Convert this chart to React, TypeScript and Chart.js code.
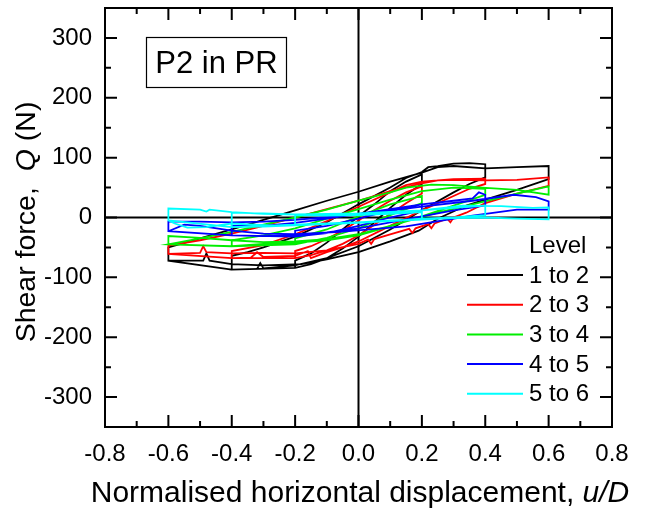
import React, { useEffect, useRef } from 'react';
import { Chart, registerables } from 'chart.js';

Chart.register(...registerables);

const FONT = '"Liberation Sans", Arial, sans-serif';

const xMajorTicks = [-0.8, -0.6, -0.4, -0.2, 0, 0.2, 0.4, 0.6, 0.8];
const xMinorTicks = [-0.7, -0.5, -0.3, -0.1, 0.1, 0.3, 0.5, 0.7];
const yMajorTicks = [-300, -200, -100, 0, 100, 200, 300];
const yMinorTicks = [-250, -150, -50, 50, 150, 250];

const seriesLabels = ['1 to 2', '2 to 3', '3 to 4', '4 to 5', '5 to 6'];
const seriesColors = ['#000000', '#ff0000', '#00ee00', '#0000ff', '#00ffff'];

const level12: [number, number][] = [
  [-0.2, -84], [-0.2, -72], [-0.15, -60], [-0.1, -42], [-0.05, -20], [0, 2], [0.05, 22], [0.1, 44], [0.15, 60], [0.2, 72],
  [0.2, 56], [0.15, 38], [0.1, 16], [0.05, -8], [0, -32], [-0.05, -52], [-0.1, -68], [-0.15, -78], [-0.2, -84],
  [-0.4, -87], [-0.4, -64], [-0.35, -58], [-0.3, -50], [-0.2, -32], [-0.1, -8], [0, 22], [0.1, 50], [0.15, 66], [0.2, 76],
  [0.22, 84], [0.25, 86], [0.3, 90], [0.35, 91], [0.4, 89], [0.4, 67], [0.35, 56], [0.3, 42], [0.2, 12], [0.1, -20],
  [0, -48], [-0.1, -68], [-0.2, -80], [-0.3, -85], [-0.31, -76], [-0.32, -86], [-0.4, -87],
  [-0.6, -72], [-0.6, -50], [-0.5, -35], [-0.4, -20], [-0.3, -4], [-0.2, 12], [-0.1, 28], [0, 43], [0.1, 60], [0.2, 75],
  [0.25, 84], [0.3, 86], [0.4, 82], [0.5, 84], [0.6, 86], [0.6, 64], [0.5, 46], [0.4, 30], [0.34, 20], [0.25, -2],
  [0.19, -22], [0.1, -40], [0, -58], [-0.1, -70], [-0.18, -78], [-0.3, -80], [-0.4, -78], [-0.47, -72], [-0.48, -60],
  [-0.49, -72], [-0.6, -72],
];

const level23: [number, number][] = [
  [-0.2, -68], [-0.2, -56], [-0.15, -48], [-0.1, -36], [-0.05, -22], [0, -5], [0.05, 12], [0.1, 28], [0.15, 42], [0.2, 52],
  [0.2, 40], [0.15, 24], [0.1, 6], [0.05, -12], [0, -30], [-0.05, -44], [-0.1, -55], [-0.15, -63], [-0.2, -68],
  [-0.4, -68], [-0.4, -56], [-0.3, -46], [-0.2, -28], [-0.1, -6], [0, 18], [0.1, 42], [0.15, 54], [0.2, 60], [0.3, 64],
  [0.4, 65], [0.4, 56], [0.35, 48], [0.3, 36], [0.2, 12], [0.1, -14], [0, -40], [-0.05, -50], [-0.1, -58], [-0.15, -68],
  [-0.16, -56], [-0.2, -64], [-0.3, -66], [-0.32, -58], [-0.34, -67], [-0.4, -68],
  [-0.6, -61], [-0.6, -47], [-0.5, -38], [-0.4, -27], [-0.3, -14], [-0.2, 0], [-0.1, 14], [0, 28], [0.1, 44], [0.2, 57],
  [0.25, 62], [0.3, 63], [0.4, 62], [0.5, 63], [0.6, 67], [0.6, 53], [0.5, 40], [0.4, 24], [0.34, 8], [0.3, 0],
  [0.29, -8], [0.28, -2], [0.24, -10], [0.23, -18], [0.22, -11], [0.18, -18], [0.17, -26], [0.16, -19], [0.1, -28],
  [0.05, -36], [0.04, -44], [0.03, -37], [0, -44], [-0.1, -55], [-0.2, -60], [-0.3, -59], [-0.4, -60], [-0.48, -58],
  [-0.49, -48], [-0.5, -59], [-0.6, -61],
];

const level34: [number, number][] = [
  [-0.2, -45], [-0.2, -35], [-0.1, -20], [0, 2], [0.1, 22], [0.2, 36], [0.2, 24], [0.1, 4], [0, -18], [-0.1, -34], [-0.2, -45],
  [-0.4, -48], [-0.4, -38], [-0.3, -30], [-0.2, -18], [-0.1, -2], [0, 14], [0.1, 30], [0.2, 44], [0.3, 50], [0.4, 48],
  [0.4, 38], [0.3, 20], [0.2, 2], [0.1, -15], [0, -30], [-0.1, -38], [-0.2, -42], [-0.3, -44], [-0.4, -48],
  [-0.6, -45], [-0.5, -35], [-0.4, -24], [-0.3, -12], [-0.2, 0], [-0.1, 13], [0, 28], [0.1, 42], [0.15, 50], [0.23, 55],
  [0.3, 54], [0.39, 50], [0.5, 46], [0.6, 38], [0.6, 52], [0.5, 40], [0.36, 22], [0.25, 8], [0.1, -14], [0, -28],
  [-0.1, -36], [-0.2, -40], [-0.3, -41], [-0.4, -38], [-0.5, -34], [-0.6, -31], [-0.6, -45],
];

const level45: [number, number][] = [
  [-0.2, -32], [-0.2, -22], [-0.1, -14], [0, -2], [0.1, 12], [0.2, 22], [0.2, 12], [0.1, 0], [0, -14], [-0.1, -26], [-0.2, -32],
  [-0.4, -30], [-0.4, -14], [-0.3, -14], [-0.2, -9], [-0.1, -2], [0, 6], [0.1, 14], [0.2, 22], [0.3, 28], [0.36, 32],
  [0.38, 42], [0.4, 38], [0.4, 20], [0.3, 12], [0.2, 2], [0.1, -8], [0, -18], [-0.1, -25], [-0.2, -29], [-0.3, -31], [-0.4, -30],
  [-0.6, -23], [-0.6, -7], [-0.5, -7], [-0.4, -8], [-0.3, -7], [-0.2, -4], [0, 5], [0.2, 18], [0.36, 28], [0.49, 38],
  [0.56, 34], [0.6, 27], [0.6, 13], [0.5, 13], [0.36, 3], [0.15, -15], [-0.06, -24], [-0.2, -28], [-0.3, -27],
  [-0.4, -22], [-0.5, -14], [-0.55, -12], [-0.6, -23],
];

const level56: [number, number][] = [
  [-0.2, -12], [-0.2, 4], [-0.1, 3], [0, 4], [0.1, 6], [0.2, 9], [0.2, -3], [0.1, -5], [0, -8], [-0.1, -10], [-0.2, -12],
  [-0.4, -16], [-0.4, 8], [-0.3, 7], [-0.2, 5], [-0.1, 5], [0, 6], [0.1, 9], [0.2, 12], [0.3, 16], [0.4, 20],
  [0.4, 4], [0.3, 0], [0.2, -2], [0.1, -6], [0, -9], [-0.1, -11], [-0.2, -13], [-0.3, -15], [-0.4, -16],
  [-0.6, -5], [-0.6, 15], [-0.5, 13], [-0.48, 10], [-0.47, 13], [-0.4, 9], [-0.3, 6], [-0.2, 5], [0, 7], [0.2, 12],
  [0.33, 20], [0.45, 19], [0.55, 16], [0.6, 17], [0.6, -3], [0.5, -2], [0.4, 0], [0.3, -1], [0.1, -6], [-0.1, -10],
  [-0.25, -14], [-0.4, -10], [-0.48, -16], [-0.54, -17], [-0.58, -10], [-0.6, -5],
];

const seriesData = [level12, level23, level34, level45, level56];

const boxText = 'P2 in PR';
const legendTitle = 'Level';

const decorPlugin = {
  id: 'decor',
  beforeDatasetsDraw(chart: any) {
    const { ctx, chartArea: a, scales } = chart;
    const x0 = scales.x.getPixelForValue(0);
    const y0 = scales.y.getPixelForValue(0);
    ctx.save();
    ctx.strokeStyle = '#000';
    ctx.lineWidth = 2;
    ctx.beginPath();
    ctx.moveTo(x0, a.top);
    ctx.lineTo(x0, a.bottom);
    ctx.moveTo(a.left, y0);
    ctx.lineTo(a.right, y0);
    ctx.stroke();
    ctx.restore();
  },
  afterDatasetsDraw(chart: any) {
    const { ctx, chartArea: a, scales } = chart;
    const xs = scales.x;
    const ys = scales.y;
    ctx.save();
    ctx.strokeStyle = '#000';
    ctx.lineWidth = 2;
    ctx.strokeRect(a.left, a.top, a.right - a.left, a.bottom - a.top);
    ctx.beginPath();
    const tickX = (vals: number[], len: number) => {
      vals.forEach((v) => {
        const p = xs.getPixelForValue(v);
        ctx.moveTo(p, a.bottom);
        ctx.lineTo(p, a.bottom - len);
        ctx.moveTo(p, a.top);
        ctx.lineTo(p, a.top + len);
      });
    };
    const tickY = (vals: number[], len: number) => {
      vals.forEach((v) => {
        const p = ys.getPixelForValue(v);
        ctx.moveTo(a.left, p);
        ctx.lineTo(a.left + len, p);
        ctx.moveTo(a.right, p);
        ctx.lineTo(a.right - len, p);
      });
    };
    tickX(xMajorTicks, 12);
    tickX(xMinorTicks, 6);
    tickY(yMajorTicks, 12);
    tickY(yMinorTicks, 6);
    ctx.stroke();

    // text box
    ctx.lineWidth = 1.2;
    ctx.strokeRect(146.5, 37.5, 140, 50);
    ctx.fillStyle = '#000';
    ctx.font = `31px ${FONT}`;
    ctx.textAlign = 'center';
    ctx.textBaseline = 'alphabetic';
    ctx.fillText(boxText, 216.5, 73);

    // legend
    ctx.font = `24px ${FONT}`;
    ctx.textAlign = 'left';
    ctx.textBaseline = 'middle';
    ctx.fillText(legendTitle, 529, 246);
    seriesLabels.forEach((lab, i) => {
      const yy = 275 + i * 29.7;
      ctx.strokeStyle = seriesColors[i];
      ctx.lineWidth = 2;
      ctx.beginPath();
      ctx.moveTo(467, yy);
      ctx.lineTo(523, yy);
      ctx.stroke();
      ctx.fillText(lab, 529, yy + 1);
    });
    ctx.restore();
  },
  afterDraw(chart: any) {
    const { ctx } = chart;
    ctx.save();
    ctx.fillStyle = '#000';
    ctx.textBaseline = 'alphabetic';
    // x title
    const n1 = 'Normalised horizontal displacement, ';
    const n2 = 'u/D';
    ctx.font = `30px ${FONT}`;
    const w1 = ctx.measureText(n1).width;
    ctx.font = `italic 30px ${FONT}`;
    const w2 = ctx.measureText(n2).width;
    const sx = 360 - (w1 + w2) / 2;
    ctx.font = `30px ${FONT}`;
    ctx.textAlign = 'left';
    ctx.fillText(n1, sx, 502);
    ctx.font = `italic 30px ${FONT}`;
    ctx.fillText(n2, sx + w1, 502);

    // y title
    const p1 = 'Shear force,  ';
    const p2 = 'Q';
    const p3 = ' (N)';
    ctx.translate(35, 222);
    ctx.rotate(-Math.PI / 2);
    ctx.font = `28.5px ${FONT}`;
    const a1 = ctx.measureText(p1).width;
    const a3 = ctx.measureText(p3).width;
    ctx.font = `italic 28.5px ${FONT}`;
    const a2 = ctx.measureText(p2).width;
    const st = -(a1 + a2 + a3) / 2;
    ctx.font = `28.5px ${FONT}`;
    ctx.fillText(p1, st, 0);
    ctx.font = `italic 28.5px ${FONT}`;
    ctx.fillText(p2, st + a1, 0);
    ctx.font = `28.5px ${FONT}`;
    ctx.fillText(p3, st + a1 + a2, 0);
    ctx.restore();
  },
};

export default function App() {
  const ref = useRef<HTMLCanvasElement>(null);
  useEffect(() => {
    const canvas = ref.current;
    if (!canvas) return;
    const chart = new Chart(canvas, {
      type: 'scatter',
      data: {
        datasets: seriesData.map((d, i) => ({
          label: seriesLabels[i],
          data: d.map(([x, y]) => ({ x, y })),
          showLine: true,
          borderColor: seriesColors[i],
          backgroundColor: seriesColors[i],
          borderWidth: 1.8,
          pointRadius: 0,
          tension: 0,
          fill: false,
          order: 5 - i,
        })),
      },
      options: {
        responsive: false,
        animation: false,
        layout: { padding: { left: 0, top: 8, right: 34, bottom: 0 } },
        plugins: { legend: { display: false }, tooltip: { enabled: false } },
        scales: {
          x: {
            type: 'linear',
            min: -0.8,
            max: 0.8,
            afterBuildTicks: (s: any) => {
              s.ticks = xMajorTicks.map((v) => ({ value: v }));
            },
            afterFit: (s: any) => {
              s.height = 82;
              s.paddingLeft = 0;
              s.paddingRight = 0;
              s.paddingTop = 0;
              s.paddingBottom = 0;
            },
            ticks: {
              color: '#000',
              font: { family: FONT, size: 24 },
              padding: 13,
              maxRotation: 0,
              autoSkip: false,
              callback: (v: any) => Number(v).toFixed(1),
            },
            grid: { display: false, drawTicks: false },
            border: { display: false },
          },
          y: {
            type: 'linear',
            min: -350,
            max: 350,
            afterBuildTicks: (s: any) => {
              s.ticks = yMajorTicks.map((v) => ({ value: v }));
            },
            afterFit: (s: any) => {
              s.width = 105;
              s.paddingLeft = 0;
              s.paddingRight = 0;
              s.paddingTop = 0;
              s.paddingBottom = 0;
            },
            ticks: {
              color: '#000',
              font: { family: FONT, size: 24 },
              padding: 13,
              autoSkip: false,
              callback: (v: any) => String(v),
            },
            grid: { display: false, drawTicks: false },
            border: { display: false },
          },
        },
      },
      plugins: [decorPlugin],
    } as any);
    return () => chart.destroy();
  }, []);
  return (
    <div style={{ position: 'absolute', left: 0, top: 0, width: 646, height: 509, background: '#fff' }}>
      <canvas ref={ref} width={646} height={509} style={{ display: 'block' }} />
    </div>
  );
}
